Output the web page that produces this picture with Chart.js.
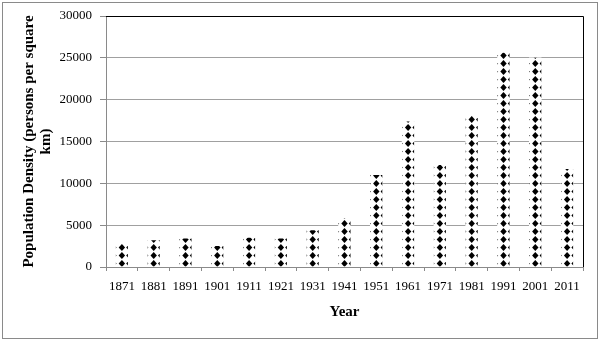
<!DOCTYPE html>
<html>
<head>
<meta charset="utf-8">
<script src="https://cdn.jsdelivr.net/npm/chart.js@4"></script>
<style>
    body { margin: 0; background: #fff; }
    canvas { display: block; }
</style>
</head>
<body>
<canvas id="densityChart" width="600" height="341"></canvas>
<script>
const years = ['1871', '1881', '1891', '1901', '1911', '1921', '1931', '1941', '1951', '1961', '1971', '1981', '1991', '2001', '2011'];
const density = [2800, 3200, 3400, 2500, 3500, 3400, 4400, 5800, 11000, 17400, 12200, 18100, 25600, 25000, 11700];
const yTicks = [0, 5000, 10000, 15000, 20000, 25000, 30000];

// outer frame and the dark top/right edge of the plot area
const framePlugin = {
    id: 'frame',
    afterDraw(chart) {
        const ctx = chart.ctx;
        const area = chart.chartArea;
        ctx.save();
        ctx.strokeStyle = '#8a8a8a';
        ctx.lineWidth = 1;
        ctx.strokeRect(2.5, 2.5, 595, 336);
        ctx.strokeStyle = '#000';
        ctx.beginPath();
        ctx.moveTo(area.left, Math.round(area.top) + 0.5);
        ctx.lineTo(Math.round(area.right) + 0.5, Math.round(area.top) + 0.5);
        ctx.lineTo(Math.round(area.right) + 0.5, area.bottom);
        ctx.stroke();
        ctx.restore();
    }
};

// black diamond fill inside each bar
const diamondPlugin = {
    id: 'diamonds',
    afterDatasetsDraw(chart) {
        const ctx = chart.ctx;
        const meta = chart.getDatasetMeta(0);
        meta.data.forEach(bar => {
            const { x, y, base, width } = bar.getProps(['x', 'y', 'base', 'width'], true);
            const left = x - width / 2;
            ctx.save();
            ctx.beginPath();
            ctx.rect(left, y, width, base - y);
            ctx.clip();
            ctx.fillStyle = '#000';
            for (let cy = base - 3; cy > y - 5; cy -= 8) {
                [x - 8.5, x, x + 7.5].forEach(cx => {
                    ctx.beginPath();
                    ctx.moveTo(cx, cy - 3.5);
                    ctx.lineTo(cx + 3.2, cy);
                    ctx.lineTo(cx, cy + 3.5);
                    ctx.lineTo(cx - 3.2, cy);
                    ctx.closePath();
                    ctx.fill();
                });
            }
            ctx.restore();
        });
    }
};

const ctx = document.getElementById('densityChart');
new Chart(ctx, {
    type: 'bar',
    data: {
        labels: years,
        datasets: [{
            data: density,
            backgroundColor: '#fff',
            borderWidth: 0,
            barThickness: 12
        }]
    },
    options: {
        responsive: false,
        animation: false,
        layout: {
            padding: { left: 0, right: 17, top: 16, bottom: 0 }
        },
        plugins: {
            legend: { display: false },
            tooltip: { enabled: false }
        },
        scales: {
            x: {
                afterFit: scale => { scale.height = 74; },
                grid: {
                    drawOnChartArea: false,
                    tickLength: 4,
                    tickColor: '#8a8a8a'
                },
                border: { color: '#8a8a8a' },
                ticks: {
                    color: '#000',
                    padding: 8,
                    maxRotation: 0,
                    font: { family: '"Liberation Serif", serif', size: 13 }
                },
                title: {
                    display: true,
                    text: 'Year',
                    color: '#000',
                    padding: { top: 0, bottom: 20 },
                    font: { family: '"Liberation Serif", serif', size: 15, weight: 'bold' }
                }
            },
            y: {
                min: 0,
                max: 30000,
                afterFit: scale => { scale.width = 106; },
                afterBuildTicks: scale => {
                    scale.ticks = yTicks.map(v => ({ value: v }));
                },
                grid: {
                    color: '#a0a0a0',
                    tickLength: 6,
                    tickColor: '#8a8a8a'
                },
                border: { color: '#8a8a8a' },
                ticks: {
                    color: '#000',
                    padding: 8,
                    font: { family: '"Liberation Serif", serif', size: 13 },
                    callback: value => String(value)
                },
                title: {
                    display: true,
                    text: ['Population Density (persons per square', 'km)'],
                    color: '#000',
                    padding: { top: 21, bottom: 0 },
                    font: { family: '"Liberation Serif", serif', size: 15, weight: 'bold', lineHeight: 1.1 }
                }
            }
        }
    },
    plugins: [diamondPlugin, framePlugin]
});
</script>
</body>
</html>
